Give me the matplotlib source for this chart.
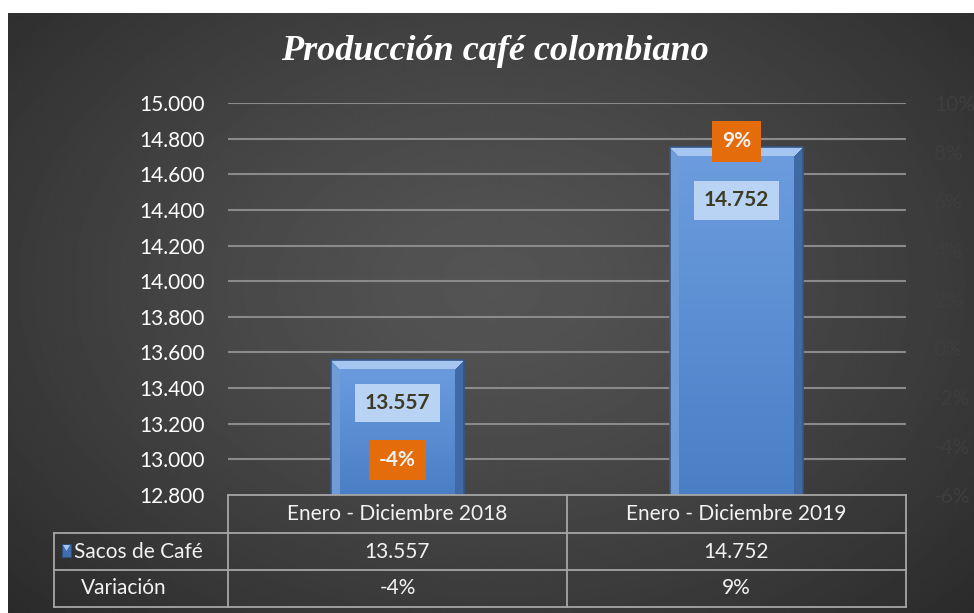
import numpy as np
import matplotlib
matplotlib.use("Agg")
import matplotlib.pyplot as plt
from matplotlib.patches import Rectangle, Polygon
from matplotlib.lines import Line2D

# ---------------- data ----------------
categorias = ["Enero - Diciembre 2018", "Enero - Diciembre 2019"]
sacos = [13557, 14752]
variacion = [-0.04, 0.09]
serie_nombres = ["Sacos de Café", "Variación"]
titulo = "Producción café colombiano"
y_ticks = [12800, 13000, 13200, 13400, 13600, 13800, 14000, 14200, 14400, 14600, 14800, 15000]
y2_ticks = [-0.06, -0.04, -0.02, 0.0, 0.02, 0.04, 0.06, 0.08, 0.10]


def fmt_miles(v):
    return f"{v:,.0f}".replace(",", ".")


def fmt_pct(v):
    return f"{v*100:.0f}%"


# ---------------- figure ----------------
W, H = 974, 613
fig = plt.figure(figsize=(W / 100, H / 100), dpi=100)
fig.patch.set_facecolor("white")
FONT = "Lato"


def fx(px):
    return px / W


def fy(py):
    return 1 - py / H


# background gradient (chart area)
bg = fig.add_axes([fx(8), 0, 1 - fx(8), fy(13)])
bg.set_zorder(-10)
ny, nx = 300, 480
yy, xx = np.mgrid[0:ny, 0:nx]
r = np.sqrt(((xx / nx - 0.5) / 0.75) ** 2 + ((yy / ny - 0.45) / 0.85) ** 2)
r = np.clip(r, 0, 1)
c_center, c_edge = 0.33, 0.15
img = c_center + (c_edge - c_center) * r ** 1.3
bg.imshow(img, cmap="gray", vmin=0, vmax=1, aspect="auto", extent=[0, 1, 0, 1], interpolation="bilinear")
bg.set_axis_off()

# main axes
L, R, T, B = 228, 906, 103, 495
ax = fig.add_axes([fx(L), fy(B), fx(R - L), fy(T) - fy(B)])
ax.set_facecolor("none")
ax.set_ylim(y_ticks[0], y_ticks[-1])
ax.set_xlim(-0.5, len(categorias) - 0.5)
ax.set_yticks(y_ticks)
ax.set_yticklabels([fmt_miles(v) for v in y_ticks], fontfamily=FONT, fontsize=15, color="white")
ax.set_xticks([])
ax.tick_params(axis="y", length=0, pad=17)
for s in ax.spines.values():
    s.set_visible(False)
for v in y_ticks[1:]:
    ax.axhline(v, color="#8a8a8a", lw=1.5, zorder=1)

x = np.arange(len(categorias))
bw = 0.392
bars = ax.bar(x, sacos, width=bw, color="#5a8fd2", edgecolor="#34578a", lw=1.2, zorder=3)


def hex2rgb(h):
    h = h.lstrip("#")
    return np.array([int(h[i:i + 2], 16) / 255 for i in (0, 2, 4)])


top_c = hex2rgb("#6d9ddf")
bot_c = hex2rgb("#4a7fc6")
bev_top = hex2rgb("#a4c6f0")
bev_left = hex2rgb("#6f9bd6")
bev_right = hex2rgb("#3f6aa6")
bev = 9  # bevel thickness in pixels

fig.canvas.draw()
for xi, v, p in zip(x, sacos, bars):
    x0d, x1d = xi - bw / 2, xi + bw / 2
    y0d = y_ticks[0]
    (px0, py0) = ax.transData.transform((x0d, y0d))
    (px1, py1) = ax.transData.transform((x1d, v))
    wpx, hpx = int(round(px1 - px0)), int(round(py1 - py0))
    ii, jj = np.mgrid[0:hpx, 0:wpx]  # ii: row (from top), jj: column
    t = ii / max(hpx - 1, 1)
    face = top_c[None, None, :] * (1 - t[..., None]) + bot_c[None, None, :] * t[..., None]
    d_top = ii
    d_left = jj
    d_right = wpx - 1 - jj
    im_arr = face.copy()
    m_top = (d_top < bev) & (d_top <= d_left) & (d_top <= d_right)
    m_left = (d_left < bev) & ~m_top & (d_left <= d_right)
    m_right = (d_right < bev) & ~m_top & ~m_left
    im_arr[m_left] = bev_left
    im_arr[m_right] = bev_right
    im_arr[m_top] = bev_top
    im = ax.imshow(im_arr, aspect="auto", extent=[x0d, x1d, y0d, v], zorder=3.5,
                   interpolation="nearest", origin="upper")
    im.set_clip_path(p)
ax.set_xlim(-0.5, len(categorias) - 0.5)
ax.set_ylim(y_ticks[0], y_ticks[-1])
for p in bars:
    p.set_zorder(3.6)
    p.set_facecolor("none")

val_offsets = [-43, -53]
for xi, v, off in zip(x, sacos, val_offsets):
    ax.annotate(fmt_miles(v), (xi, v), xytext=(0, off), textcoords="offset pixels",
                ha="center", va="center", fontfamily=FONT, fontweight="bold", fontsize=15,
                color="#3e3b24", zorder=6,
                bbox=dict(boxstyle="square,pad=0.45", fc="#b8d3f3", ec="none"))

# secondary axis
ax2 = ax.twinx()
ax2.set_ylim(y2_ticks[0], y2_ticks[-1])
ax2.set_yticks(y2_ticks)
ax2.set_yticklabels([fmt_pct(v) for v in y2_ticks], fontfamily=FONT, fontsize=15, color="#3e3e3e")
ax2.tick_params(axis="y", length=0, pad=20)
for s in ax2.spines.values():
    s.set_visible(False)
for xi, v in zip(x, variacion):
    ax2.annotate(fmt_pct(v), (xi, v), xytext=(0, -14), textcoords="offset pixels",
                 ha="center", va="center", fontfamily=FONT, fontweight="bold", fontsize=15,
                 color="#f2f2f2", zorder=7,
                 bbox=dict(boxstyle="square,pad=0.5", fc="#e46c0a", ec="none"))

# title
fig.text(fx(495), fy(52), titulo, ha="center", va="center", color="white",
         fontfamily="Liberation Serif", fontstyle="italic", fontweight="bold", fontsize=26)

# ---------------- data table ----------------
tc = "#a6a6a6"
row_y = [495, 533, 570, 607]
col_x = [54, 228, 567, 906]


def hline(y, x0, x1):
    fig.add_artist(Line2D([fx(x0), fx(x1)], [fy(y), fy(y)], color=tc, lw=1.3))


def vline(xp, y0, y1):
    fig.add_artist(Line2D([fx(xp), fx(xp)], [fy(y0), fy(y1)], color=tc, lw=1.3))


hline(row_y[0], col_x[1], col_x[3])
for yv in row_y[1:]:
    hline(yv, col_x[0], col_x[3])
vline(col_x[0], row_y[1], row_y[3])
for xv in col_x[1:]:
    vline(xv, row_y[0], row_y[3])

tkw = dict(fontfamily=FONT, fontsize=15, color="#f2f2f2", va="center")
for i, c in enumerate(categorias):
    fig.text(fx((col_x[i + 1] + col_x[i + 2]) / 2), fy((row_y[0] + row_y[1]) / 2), c, ha="center", **tkw)
for i, v in enumerate(sacos):
    fig.text(fx((col_x[i + 1] + col_x[i + 2]) / 2), fy((row_y[1] + row_y[2]) / 2), fmt_miles(v), ha="center", **tkw)
for i, v in enumerate(variacion):
    fig.text(fx((col_x[i + 1] + col_x[i + 2]) / 2), fy((row_y[2] + row_y[3]) / 2), fmt_pct(v), ha="center", **tkw)

# legend key in row header
fig.add_artist(Rectangle((fx(62), fy(557)), fx(9), fy(544) - fy(557), transform=fig.transFigure,
                         fc="#3f6fb0", ec="#2f4f7f", lw=0.8))
fig.add_artist(Polygon([(fx(63), fy(545)), (fx(70), fy(545)), (fx(66.5), fy(551))],
                       closed=True, transform=fig.transFigure, fc="#a4c6f0", ec="none"))
fig.text(fx(74), fy((row_y[1] + row_y[2]) / 2), serie_nombres[0], ha="left", **tkw)
fig.text(fx(81), fy((row_y[2] + row_y[3]) / 2), serie_nombres[1], ha="left", **tkw)

fig.savefig("out.png", dpi=100, facecolor=fig.get_facecolor())
